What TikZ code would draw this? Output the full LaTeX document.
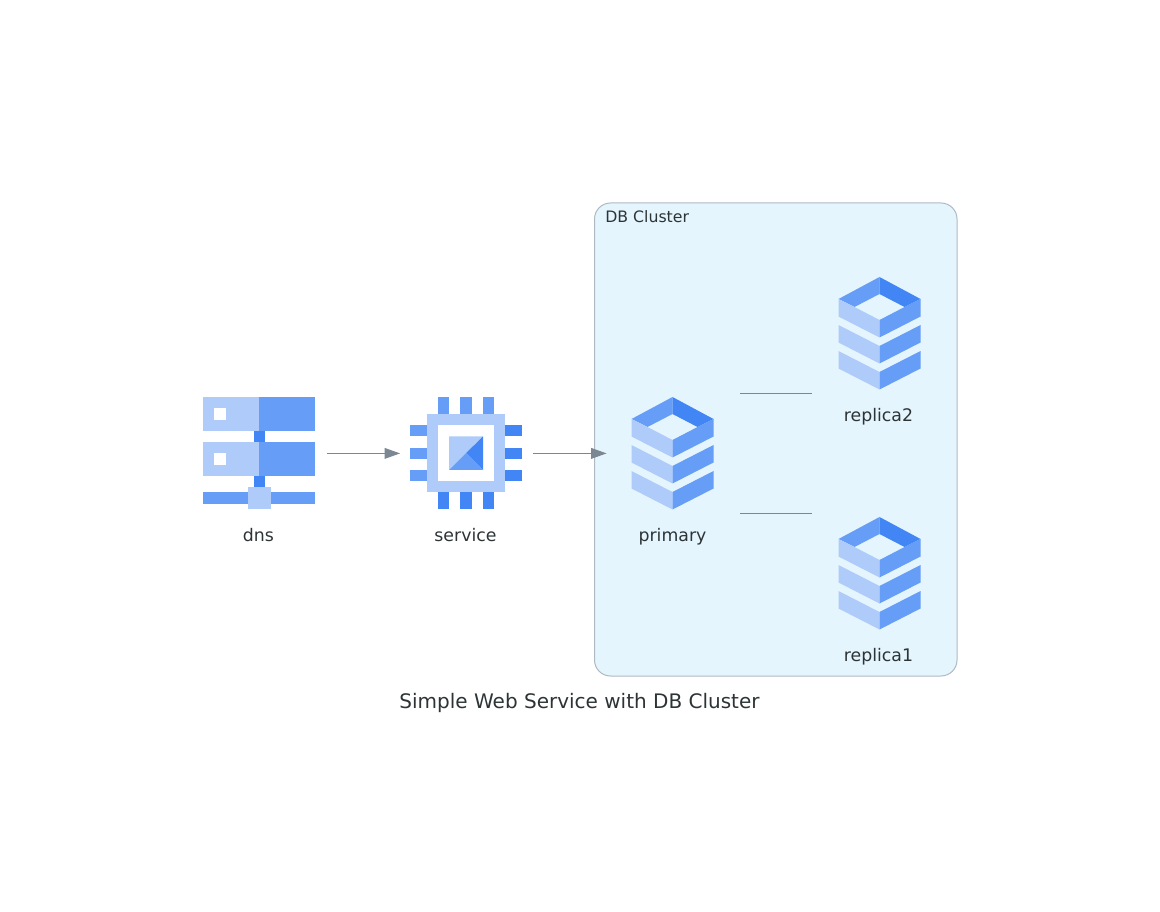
\documentclass[tikz,border=0pt]{standalone}
\usepackage{fontspec}
\setmainfont{DejaVu Sans}
\usetikzlibrary{arrows.meta}
\definecolor{iconlight}{RGB}{174,203,250}
\definecolor{iconmid}{RGB}{102,157,246}
\definecolor{icondark}{RGB}{66,133,244}
\definecolor{clusterfill}{RGB}{229,245,253}
\definecolor{clusterline}{RGB}{174,185,196}
\definecolor{edgegray}{RGB}{123,136,148}
\definecolor{textdark}{RGB}{45,52,54}
\tikzset{
  iconnode/.style={minimum width=100.5pt,minimum height=90pt,inner sep=0pt},
  iconlabel/.style={anchor=base,text=textdark,font=\fontsize{13}{15}\selectfont,inner sep=0pt},
  flowedge/.style={draw=edgegray,line width=0.75pt,-{Triangle[length=11.5pt,width=8pt]},shorten >=-1pt},
  plainedge/.style={draw=edgegray,line width=0.75pt},
  dbicon/.pic={
    %top face
    \fill [iconmid] (-41,-34) -- (0,-56) -- (0,-39) -- (-25,-26) -- cycle ;
    \fill [icondark] (0,-56) -- (41,-34) -- (25,-26) -- (0,-39) -- cycle ;
    %upper layer
    \fill [iconlight] (-41,-34) -- (-25,-26) -- (0,-13) -- (0,4.5) -- (-41,-16.5) -- cycle ;
    \fill [iconmid] (41,-34) -- (25,-26) -- (0,-13) -- (0,4.5) -- (41,-16.5) -- cycle ;
    %middle layer
    \fill [iconlight] (-41,-8) -- (0,13) -- (0,30.5) -- (-41,9.5) -- cycle ;
    \fill [iconmid] (41,-8) -- (0,13) -- (0,30.5) -- (41,9.5) -- cycle ;
    %lower layer
    \fill [iconlight] (-41,18) -- (0,39) -- (0,56.5) -- (-41,35.5) -- cycle ;
    \fill [iconmid] (41,18) -- (0,39) -- (0,56.5) -- (41,35.5) -- cycle ;
  }
}

\begin{document}
\begin{tikzpicture}[x=0.75pt,y=0.75pt,yscale=-1,xscale=1]
  \useasboundingbox (0,0) rectangle (1160,912);

  %Cluster box
  \draw [draw=clusterline,fill=clusterfill,line width=0.75pt,rounded corners=12pt] (594.5,203) rectangle (957,676);

  %Shape: dns icon
  \fill [iconlight] (203.3,397.3) rectangle (259.3,430.6) ;
  \fill [iconmid] (259.3,397.3) rectangle (315.3,430.6) ;
  \fill [iconlight] (203.3,442.3) rectangle (259.3,475.6) ;
  \fill [iconmid] (259.3,442.3) rectangle (315.3,475.6) ;
  \fill [white] (214.3,408.3) rectangle (225.6,419.8) ;
  \fill [white] (214.3,453.3) rectangle (225.6,464.7) ;
  \fill [icondark] (253.7,430.6) rectangle (265,442.3) ;
  \fill [icondark] (253.7,475.6) rectangle (265,487) ;
  \fill [iconmid] (203.3,492.3) rectangle (315.3,503.7) ;
  \fill [iconlight] (248,487) rectangle (270.7,509.3) ;

  %Shape: service icon
  \foreach \px in {438,460.3,482.7} {
    \fill [iconmid] (\px,397.3) rectangle ++(11.3,17) ;
    \fill [icondark] (\px,492.3) rectangle ++(11.3,17) ;
  }
  \foreach \py in {425.3,447.7,470} {
    \fill [iconmid] (410,\py) rectangle ++(17,11) ;
    \fill [icondark] (505.3,\py) rectangle ++(17,11) ;
  }
  \fill [iconlight] (426.7,414) rectangle (505.3,492.3) ;
  \fill [white] (437.7,425) rectangle (494,481) ;
  \fill [iconlight] (449,436.3) -- (483,436.3) -- (449,470) -- cycle ;
  \fill [icondark] (483,436.3) -- (483,470) -- (466,453.2) -- cycle ;
  \fill [iconmid] (449,470) -- (483,470) -- (466,453.2) -- cycle ;

  %Shape: database icons
  \pic [transform shape] at (672.5,453) {dbicon};
  \pic [transform shape] at (879.5,333) {dbicon};
  \pic [transform shape] at (879.5,573) {dbicon};

  %Icon nodes
  \node [iconnode] (dns) at (259.5,453.4) {};
  \node [iconnode] (service) at (466,453.4) {};
  \node [iconnode] (primary) at (672.5,453.4) {};
  \node [iconnode] (replica2) at (879.5,333) {};
  \node [iconnode] (replica1) at (879.5,573) {};

  %Straight Lines
  \draw [flowedge] (dns) -- (service) ;
  \draw [flowedge] (service) -- (primary) ;
  \draw [plainedge] (primary.north east) -- (replica2.south west |- primary.north east) ;
  \draw [plainedge] (primary.south east) -- (replica1.north west |- primary.south east) ;

  % Text Node
  \node [iconlabel] (dnslabel) at (258.5,541.7) {dns};
  % Text Node
  \node [iconlabel] (servicelabel) at (465.5,541.7) {service};
  % Text Node
  \node [iconlabel] (primarylabel) at (672.5,541.7) {primary};
  % Text Node
  \node [iconlabel] (replica2label) at (878.5,421.7) {replica2};
  % Text Node
  \node [iconlabel] (replica1label) at (878.5,661.7) {replica1};
  % Text Node
  \node [anchor=base west,inner sep=0pt,text=textdark,font=\fontsize{11.8}{14}\selectfont] (clusterlabel) at (605,222.3) {DB Cluster};
  % Text Node
  \node [anchor=base,inner sep=0pt,text=textdark,font=\fontsize{15}{18}\selectfont] (titlelabel) at (579.5,708.7) {Simple Web Service with DB Cluster};
\end{tikzpicture}
\end{document}
